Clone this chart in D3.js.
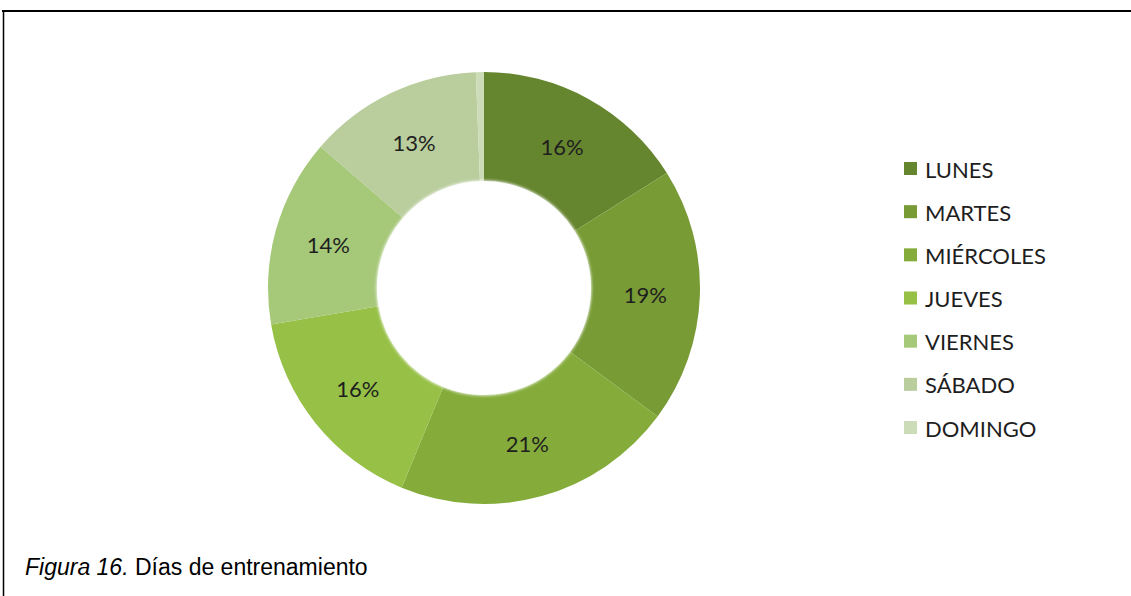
<!DOCTYPE html>
<html>
<head>
<meta charset="utf-8">
<script src="https://cdn.jsdelivr.net/npm/d3@7"></script>
<style>
  html, body { margin: 0; padding: 0; background: #ffffff; }
  svg { display: block; }
</style>
</head>
<body>
<svg id="chart" width="1131" height="596"></svg>
<script>
// Training days share (percent)
const days = ["LUNES", "MARTES", "MIÉRCOLES", "JUEVES", "VIERNES", "SÁBADO", "DOMINGO"];
const shares = [16, 19, 21, 16, 14, 13, 0.6];
const shareLabels = ["16%", "19%", "21%", "16%", "14%", "13%", ""];
const dayColors = ["#66852f", "#789b36", "#85ac3b", "#96c046", "#a6c879", "#b9cd9d", "#cddcb8"];

const svg = d3.select("#chart");
const W = 1131, H = 596;

// frame lines
svg.append("line").attr("x1", 2).attr("x2", W).attr("y1", 11).attr("y2", 11)
  .attr("stroke", "#000").attr("stroke-width", 2);
svg.append("line").attr("x1", 3.5).attr("x2", 3.5).attr("y1", 10).attr("y2", H)
  .attr("stroke", "#000").attr("stroke-width", 1.5);

const cx = 484, cy = 288, outerR = 216, innerR = 107;

const defs = svg.append("defs");
// radial shading: darker toward the hole
const shade = defs.append("radialGradient").attr("id", "ringShade")
  .attr("gradientUnits", "userSpaceOnUse")
  .attr("cx", cx).attr("cy", cy).attr("r", outerR);
shade.append("stop").attr("offset", innerR / outerR).attr("stop-color", "#3a3f30").attr("stop-opacity", 0.32);
shade.append("stop").attr("offset", 0.7).attr("stop-color", "#3a3f30").attr("stop-opacity", 0.1);
shade.append("stop").attr("offset", 1).attr("stop-color", "#3a3f30").attr("stop-opacity", 0);

defs.append("filter").attr("id", "soft").attr("x", "-10%").attr("y", "-10%").attr("width", "120%").attr("height", "120%")
  .append("feGaussianBlur").attr("stdDeviation", 1.6);

const color = d3.scaleOrdinal().domain(days).range(dayColors);

const pie = d3.pie().sort(null).value(d => d.v);
const arcs = pie(days.map((d, i) => ({ day: d, v: shares[i], label: shareLabels[i] })));
const arc = d3.arc().innerRadius(innerR).outerRadius(outerR);

const g = svg.append("g").attr("transform", `translate(${cx},${cy})`);
g.selectAll("path.slice").data(arcs).join("path")
  .attr("class", "slice")
  .attr("d", arc)
  .attr("fill", d => color(d.data.day));

// shading overlay
svg.append("path")
  .attr("transform", `translate(${cx},${cy})`)
  .attr("d", d3.arc().innerRadius(innerR).outerRadius(outerR).startAngle(0).endAngle(2 * Math.PI)())
  .attr("fill", "url(#ringShade)");

// soft hole edge
svg.append("circle").attr("cx", cx).attr("cy", cy).attr("r", innerR + 0.5)
  .attr("fill", "#ffffff").attr("filter", "url(#soft)");

// value labels at slice centroids
g.selectAll("text.val").data(arcs.filter(d => d.data.label)).join("text")
  .attr("class", "val")
  .attr("transform", d => `translate(${arc.centroid(d)})`)
  .attr("text-anchor", "middle")
  .attr("dominant-baseline", "central")
  .attr("font-family", "Lato, 'Open Sans', sans-serif")
  .attr("font-size", 22)
  .attr("fill", "#1e1e1e")
  .text(d => d.data.label);

// legend
const legendY = d3.scalePoint().domain(days).range([168, 427]);
const items = svg.append("g").selectAll("g").data(days).join("g")
  .attr("transform", d => `translate(904,${legendY(d)})`);
items.append("rect").attr("x", 0).attr("y", -6).attr("width", 13).attr("height", 13)
  .attr("fill", d => color(d));
items.append("text").attr("x", 21).attr("y", 1)
  .attr("dominant-baseline", "central")
  .attr("font-family", "Lato, 'Open Sans', sans-serif")
  .attr("font-size", 22)
  .attr("fill", "#1e1e1e")
  .text(d => d);

// caption
const cap = svg.append("text").attr("x", 25).attr("y", 575)
  .attr("font-family", "'Liberation Sans', Arial, sans-serif")
  .attr("font-size", 23).attr("fill", "#000");
cap.append("tspan").attr("font-style", "italic").text("Figura 16.");
cap.append("tspan").text(" Días de entrenamiento");
</script>
</body>
</html>
